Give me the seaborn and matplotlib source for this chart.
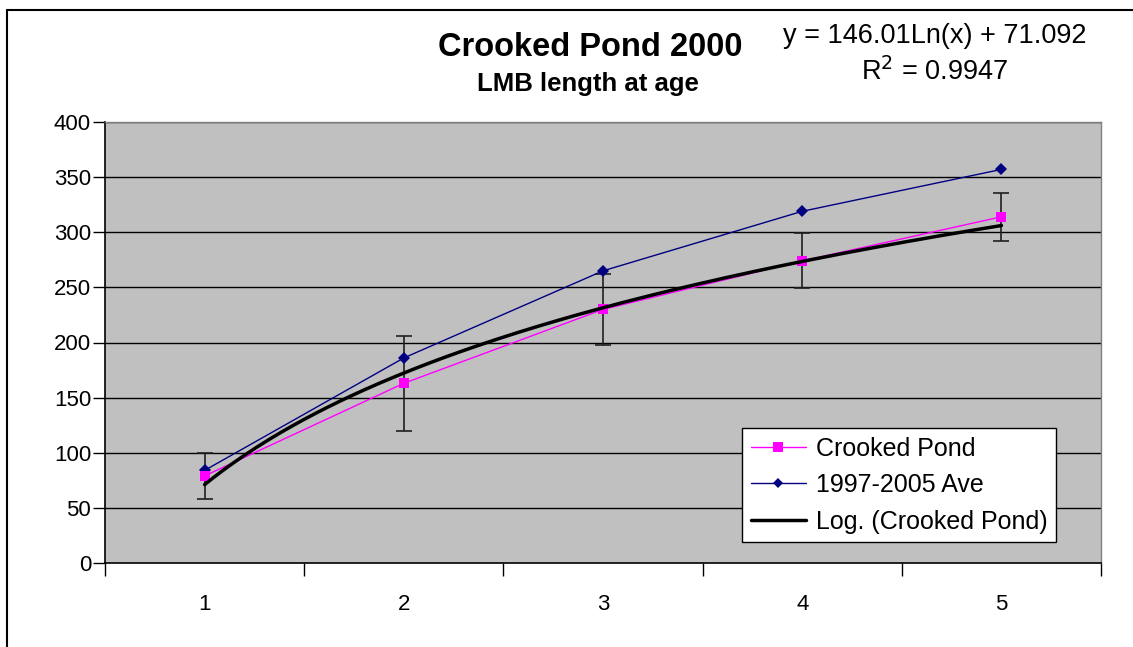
import numpy as np
import seaborn as sns
import matplotlib.pyplot as plt
from matplotlib.lines import Line2D

# values
ages = [1, 2, 3, 4, 5]
crooked_pond = [79, 163, 230, 274, 314]
crooked_err = [21, 43, 32, 25, 22]
ave_9705 = [84, 186, 265, 319, 357]
# Excel log trendline, coefficients as printed on the chart
trend_a, trend_b = 146.01, 71.092

sns.set_style("white")
plt.rcParams['font.family'] = ['Liberation Sans', 'DejaVu Sans']
plt.rcParams['text.color'] = 'black'
plt.rcParams['xtick.color'] = 'black'
plt.rcParams['ytick.color'] = 'black'

fig = plt.figure(figsize=(11.33, 6.47), dpi=100)
ax = fig.add_axes([105 / 1133, 1 - 563 / 647, (1101 - 105) / 1133, (563 - 122) / 647])
ax.set_facecolor('#C0C0C0')

# gridlines
for v in range(50, 401, 50):
    ax.axhline(v, color='black', lw=1, zorder=1)

ax.errorbar(ages, crooked_pond, yerr=crooked_err, fmt='none', ecolor='#202020',
            elinewidth=1.2, capsize=5.5, capthick=1.2, zorder=2)

sns.lineplot(x=ages, y=ave_9705, ax=ax, color='#000080', lw=1, marker='D',
             markersize=6, markeredgewidth=0, zorder=3)
sns.lineplot(x=ages, y=crooked_pond, ax=ax, color='#FF00FF', lw=1, marker='s',
             markersize=7, markeredgewidth=0, zorder=4)

xs = np.linspace(1, 5, 200)
ax.plot(xs, trend_a * np.log(xs) + trend_b, color='black', lw=2.5, zorder=5)

ax.set_xlim(0.5, 5.5)
ax.set_ylim(0, 400)
ax.set_yticks(range(0, 401, 50))
ax.set_xticks(ages)
ax.set_xticks([0.5, 1.5, 2.5, 3.5, 4.5, 5.5], minor=True)
ax.tick_params(axis='x', which='major', length=0, pad=22, labelsize=16)
ax.tick_params(axis='x', which='minor', length=9, width=1, direction='out', color='black')
ax.tick_params(axis='y', length=9, width=1, direction='out', color='black', pad=1, labelsize=16)
ax.xaxis.set_tick_params(bottom=True, which='minor')
ax.yaxis.set_tick_params(left=True)
ax.set_xlabel('')
ax.set_ylabel('')

for s in ['left', 'bottom']:
    ax.spines[s].set_color('black')
    ax.spines[s].set_linewidth(1.2)
for s in ['top', 'right']:
    ax.spines[s].set_color('#808080')
    ax.spines[s].set_linewidth(1)

handles = [
    Line2D([], [], color='#FF00FF', lw=1, marker='s', markersize=7, markeredgewidth=0),
    Line2D([], [], color='#000080', lw=1, marker='D', markersize=5, markeredgewidth=0),
    Line2D([], [], color='black', lw=2.5),
]
leg = ax.legend(handles, ['Crooked Pond', '1997-2005 Ave', 'Log. (Crooked Pond)'],
                loc='lower right', bbox_to_anchor=(0.955, 0.047), fontsize=18,
                frameon=True, fancybox=False, framealpha=1, edgecolor='black',
                borderpad=0.35, labelspacing=0.5, handlelength=2.2, handletextpad=0.4,
                borderaxespad=0)
leg.get_frame().set_linewidth(1)

fig.text(590 / 1133, 1 - 47 / 647, 'Crooked Pond 2000', ha='center', va='center',
         fontsize=23.5, fontweight='bold')
fig.text(588 / 1133, 1 - 84 / 647, 'LMB length at age', ha='center', va='center',
         fontsize=18.5, fontweight='bold')
fig.text(935 / 1133, 1 - 36 / 647, 'y = 146.01Ln(x) + 71.092', ha='center', va='center',
         fontsize=19.5)
fig.text(935 / 1133, 1 - 72 / 647, r'R$^2$ = 0.9947', ha='center', va='center',
         fontsize=19.5)

# chart border as it appears (left and top edges)
fig.add_artist(Line2D([7 / 1133, 7 / 1133], [0, 1 - 10 / 647], color='black', lw=1.5,
                      transform=fig.transFigure))
fig.add_artist(Line2D([7 / 1133, 1], [1 - 10 / 647, 1 - 10 / 647], color='black', lw=1.5,
                      transform=fig.transFigure))

fig.savefig('out.png', dpi=100)
